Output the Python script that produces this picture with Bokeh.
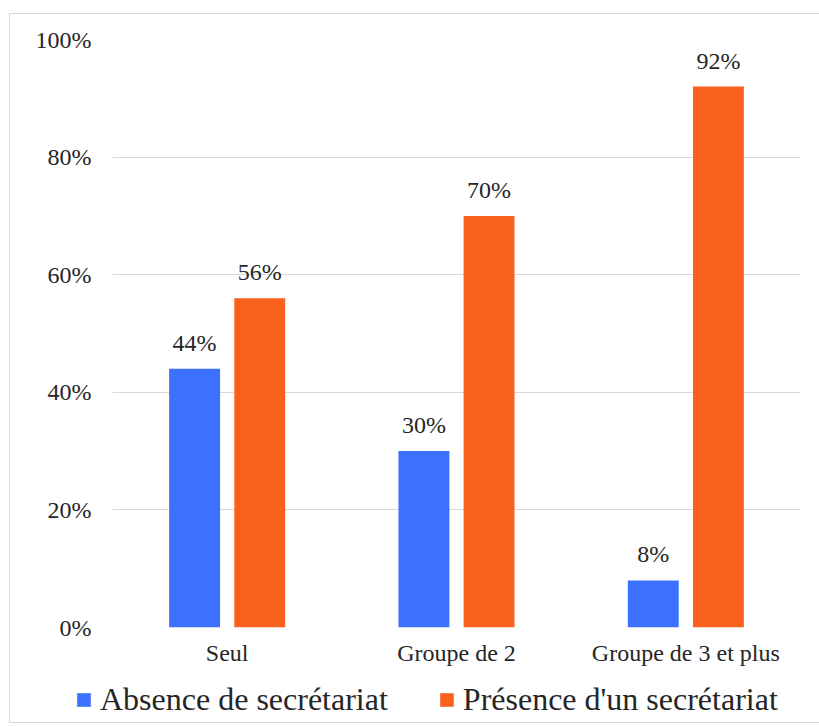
from bokeh.plotting import figure
from bokeh.layouts import column
from bokeh.models import ColumnDataSource, FactorRange, FixedTicker, NumeralTickFormatter, Legend, LegendItem
from bokeh.transform import dodge
from bokeh.core.properties import value
from bokeh.embed import file_html
from bokeh.resources import INLINE

categories = ["Seul", "Groupe de 2", "Groupe de 3 et plus"]
absence = [0.44, 0.30, 0.08]
presence = [0.56, 0.70, 0.92]
series_names = ["Absence de secrétariat", "Présence d'un secrétariat"]
y_ticks = [0, 0.2, 0.4, 0.6, 0.8, 1.0]

BLUE = "#3C71FE"
ORANGE = "#F9611C"
TXT = "#262626"
FONT = "'Liberation Serif', 'Times New Roman', serif"

src = ColumnDataSource(dict(
    cat=categories,
    absence=absence,
    presence=presence,
    absence_lbl=[f"{round(v*100)}%" for v in absence],
    presence_lbl=[f"{round(v*100)}%" for v in presence],
))

p = figure(x_range=FactorRange(*categories, range_padding=0), y_range=(0, 1.0),
           frame_width=688, frame_height=588, output_backend="svg", toolbar_location=None,
           min_border_left=102, min_border_right=19, min_border_top=25, min_border_bottom=45)
p.outline_line_color = None

p.vbar(x=dodge("cat", -0.142, range=p.x_range), top="absence", width=0.222, source=src,
       fill_color=BLUE, line_color=None)
p.vbar(x=dodge("cat", 0.142, range=p.x_range), top="presence", width=0.222, source=src,
       fill_color=ORANGE, line_color=None)

p.text(x=dodge("cat", -0.142, range=p.x_range), y="absence", text="absence_lbl", source=src,
       text_align="center", text_baseline="alphabetic", y_offset=-26,
       text_font=value(FONT), text_font_size="24px", text_color=TXT)
p.text(x=dodge("cat", 0.142, range=p.x_range), y="presence", text="presence_lbl", source=src,
       text_align="center", text_baseline="alphabetic", y_offset=-26,
       text_font=value(FONT), text_font_size="24px", text_color=TXT)

p.yaxis.ticker = FixedTicker(ticks=y_ticks)
p.yaxis.formatter = NumeralTickFormatter(format="0%")
for ax in (p.xaxis[0], p.yaxis[0]):
    ax.axis_line_color = None
    ax.major_tick_line_color = None
    ax.minor_tick_line_color = None
    ax.major_tick_out = 0
    ax.major_tick_in = 0
    ax.major_label_text_font = FONT
    ax.major_label_text_font_size = "24px"
    ax.major_label_text_color = TXT
p.yaxis.major_label_standoff = 21
p.xaxis.major_label_standoff = 12

p.xgrid.grid_line_color = None
p.ygrid.grid_line_color = "#d9d9d9"
p.ygrid.grid_line_width = 1

# legend strip (separate figure so the legend is not clipped by the main frame)
lg = figure(width=809, height=50, output_backend="svg", toolbar_location=None,
            x_axis_location=None, y_axis_location=None,
            min_border_left=0, min_border_right=0, min_border_top=0, min_border_bottom=0)
lg.outline_line_color = None
lg.grid.visible = False
for fig in (p, lg):
    if "frame_align" in fig.properties():
        fig.frame_align = False
# zero-height proxy bars (invisible) that carry the legend swatches
lr1 = lg.vbar(x="absence", top=0, bottom=0, width=0.001, source=src, fill_color=BLUE, line_color=None)
lr2 = lg.vbar(x="presence", top=0, bottom=0, width=0.001, source=src, fill_color=ORANGE, line_color=None)

legend = Legend(items=[LegendItem(label=series_names[0], renderers=[lr1]),
                       LegendItem(label=series_names[1], renderers=[lr2])],
                orientation="horizontal", location=(65, 4),
                label_text_font=FONT, label_text_font_size="32px", label_text_color=TXT,
                glyph_width=17, glyph_height=17, label_standoff=8, spacing=50,
                padding=0, margin=0, border_line_color=None, background_fill_alpha=0)
lg.add_layout(legend, "center")

layout = column(p, lg, spacing=0)
layout.styles = {"border": "1px solid #d9d9d9", "margin-left": "9px", "margin-top": "13px"}

open("out.html", "w").write(file_html(layout, INLINE))
